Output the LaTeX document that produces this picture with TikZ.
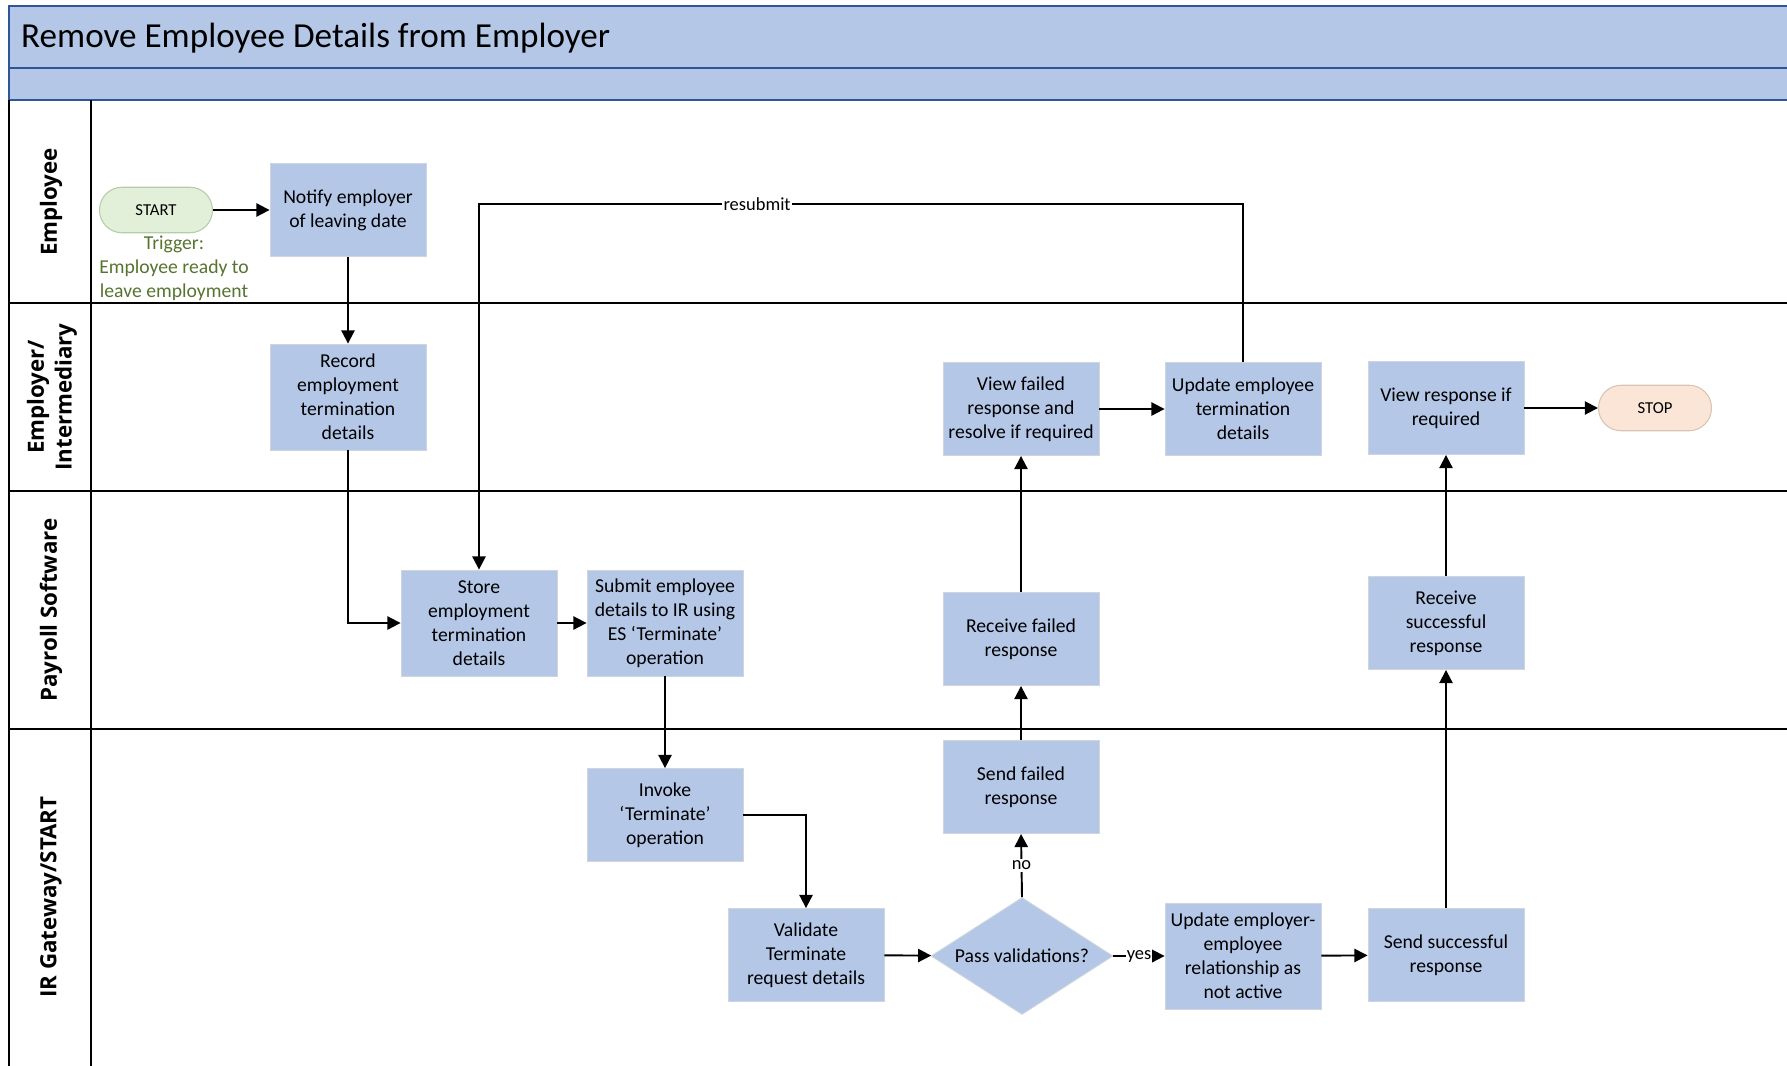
\documentclass[tikz,border=0pt]{standalone}
\usepackage{fontspec}
\setmainfont{Carlito}
\newfontfamily\lanefont{Open Sans}
\usetikzlibrary{arrows.meta,shapes.geometric}
\definecolor{boxblue}{HTML}{B4C7E7}
\definecolor{boxedge}{HTML}{D0D5DD}
\definecolor{bandline}{HTML}{2F5597}
\definecolor{startfill}{HTML}{E2F0D9}
\definecolor{startedge}{HTML}{B5CCA8}
\definecolor{stopfill}{HTML}{FBE5D6}
\definecolor{stopedge}{HTML}{D9C3B5}
\definecolor{triggertext}{HTML}{56742F}
\begin{document}
\begin{tikzpicture}[x=0.02cm,y=-0.02cm,
  proc/.style={rectangle, fill=boxblue, draw=boxedge, line width=0.5pt,
    minimum width=3.12cm, minimum height=1.86cm, inner sep=1pt,
    align=center, font=\fontsize{11.2}{13.7}\selectfont},
  tallproc/.style={proc, minimum height=2.12cm},
  decide/.style={diamond, aspect=1.55, fill=boxblue, draw=boxedge, line width=0.5pt,
    minimum width=3.64cm, minimum height=2.34cm, inner sep=0pt,
    align=center, font=\fontsize{11.2}{13.7}\selectfont},
  terminal/.style={rectangle, rounded corners=0.45cm, line width=0.6pt,
    minimum width=2.26cm, minimum height=0.91cm,
    font=\fontsize{9.5}{11}\selectfont},
  lanelabel/.style={rotate=90, align=center,
    font=\lanefont\bfseries\fontsize{12.7}{15.8}\selectfont},
  flow/.style={draw, line width=1.1pt, -{Triangle[length=7.5pt,width=7.5pt]}},
  tag/.style={fill=white, inner sep=1pt, font=\fontsize{10.5}{12}\selectfont},
  laneline/.style={line width=1.1pt, black}
]
\useasboundingbox (0,0) rectangle (1787,1065);
\clip (0,0) rectangle (1787,1065);

% header bands
\draw[fill=boxblue, draw=bandline, line width=0.9pt] (9,6) rectangle (1800,68);
\draw[fill=boxblue, draw=bandline, line width=0.9pt] (9,68) rectangle (1800,100);
\node[anchor=west, font=\fontsize{20}{24}\selectfont] (title) at (15,38)
  {Remove Employee Details from Employer};

% swimlane frame
\draw[laneline] (9,100) -- (9,1070);
\draw[line width=0.8pt] (91,100) -- (91,1070);
\draw[laneline] (9,303) -- (1800,303);
\draw[laneline] (9,491) -- (1800,491);
\draw[laneline] (9,729) -- (1800,729);

% lane titles
\node[lanelabel] (lemp) at (51,202) {Employee};
\node[lanelabel] (lemr) at (52,397) {Employer/\\Intermediary};
\node[lanelabel] (lpay) at (51,610) {Payroll Software};
\node[lanelabel] (lird) at (51,897) {IR Gateway/START};

% Employee lane
\node[terminal, fill=startfill, draw=startedge] (start) at (156,210) {START};
\node[align=center, text=triggertext, font=\fontsize{11.2}{13.7}\selectfont, inner sep=0pt]
  (trig) at (174,268) {Trigger:\\Employee ready to\\leave employment};
\node[proc] (notify) at (348,210) {Notify employer\\of leaving date};

% Employer / Intermediary lane
\node[tallproc] (record) at (348,397) {Record\\employment\\termination\\details};
\node[proc] (viewfail) at (1021,409) {View failed\\response and\\resolve if required};
\node[proc] (updemp) at (1243,409) {Update employee\\termination\\details};
\node[proc] (viewresp) at (1446,408) {View response if\\required};
\node[terminal, fill=stopfill, draw=stopedge] (stop) at (1655,408) {STOP};

% Payroll Software lane
\node[tallproc] (store) at (479,623) {Store\\employment\\termination\\details};
\node[tallproc] (submit) at (665,623) {Submit employee\\details to IR using\\ES ‘Terminate’\\operation};
\node[proc] (recvfail) at (1021,639) {Receive failed\\response};
\node[proc] (recvok) at (1446,623) {Receive\\successful\\response};

% IR Gateway / START lane
\node[proc] (invoke) at (665,815) {Invoke\\‘Terminate’\\operation};
\node[proc] (validate) at (806,955) {Validate\\Terminate\\request details};
\node[decide] (pass) at (1022,956) {Pass validations?};
\node[proc] (sendfail) at (1021,787) {Send failed\\response};
\node[tallproc] (updrel) at (1243,956) {Update employer-\\employee\\relationship as\\not active};
\node[proc] (sendok) at (1446,955) {Send successful\\response};

% connectors
\coordinate (rs) at (757,204);
\draw[flow] (start) -- (notify);
\draw[flow] (notify) -- (record);
\draw[flow] (record.south) |- (store.west);
\draw[flow] (updemp.north) -- (updemp.north |- rs)
  -- node[tag, pos=0.636] {resubmit} (store.north |- rs) -- (store.north);
\draw[flow] (store) -- (submit);
\draw[flow] (submit) -- (invoke);
\draw[flow] (invoke.east) -| (validate.north);
\draw[flow] (validate) -- (pass);
\draw[flow] (pass.north) -- node[tag, pos=0.5] {no} (sendfail.south);
\draw[flow] (pass.east) -- node[tag, pos=0.5, inner sep=0.5pt] {yes} (updrel.west);
\draw[flow] (sendfail) -- (recvfail);
\draw[flow] (recvfail) -- (viewfail);
\draw[flow] (viewfail) -- (updemp);
\draw[flow] (updrel) -- (sendok);
\draw[flow] (sendok) -- (recvok);
\draw[flow] (recvok) -- (viewresp);
\draw[flow] (viewresp) -- (stop);
\end{tikzpicture}
\end{document}
